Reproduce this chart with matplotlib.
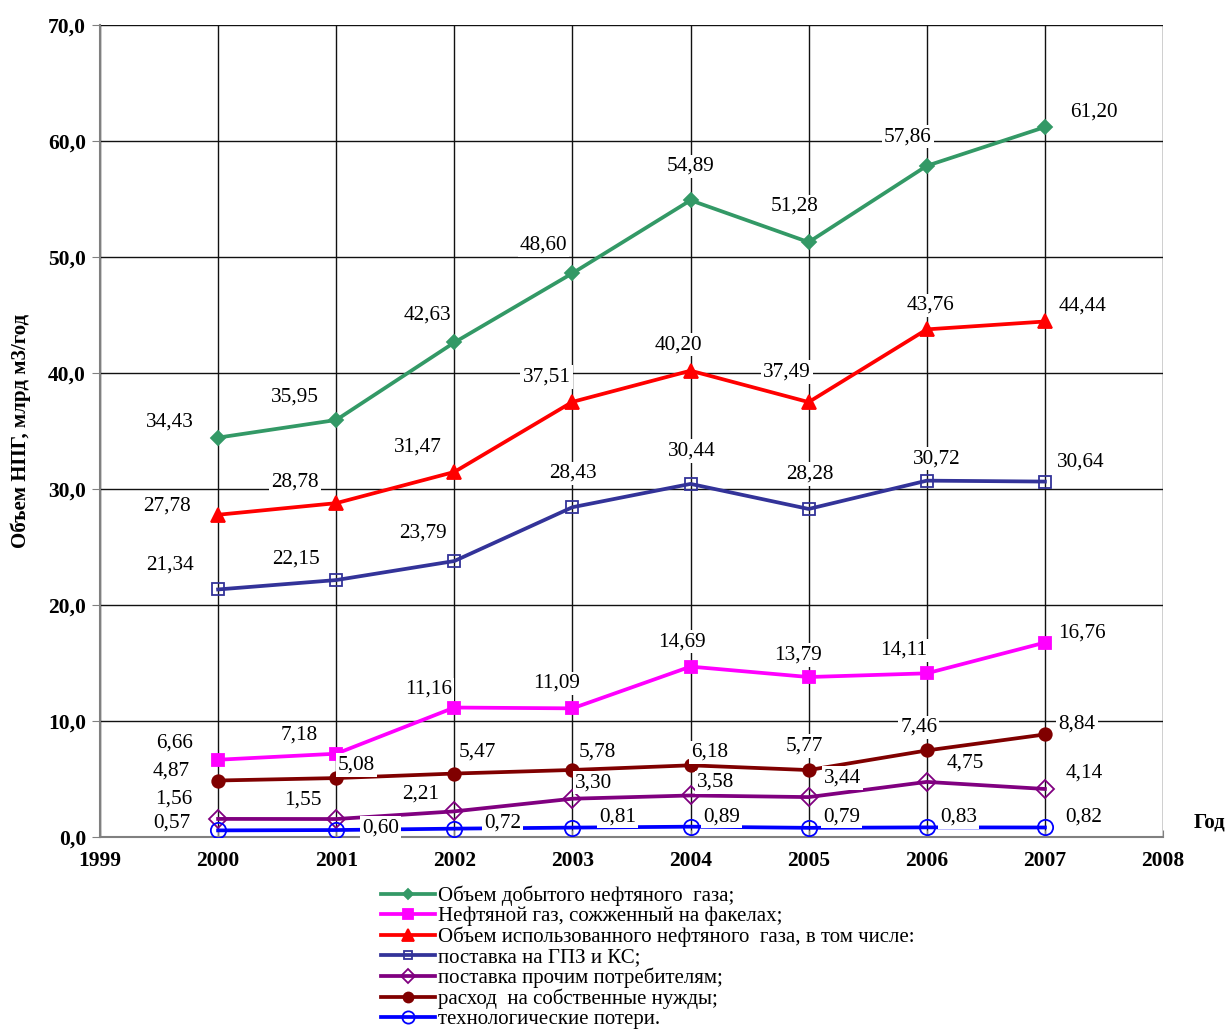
import matplotlib
matplotlib.use('Agg')
import matplotlib.pyplot as plt
from matplotlib.ticker import FuncFormatter, MultipleLocator

plt.rcParams['font.family'] = ['Liberation Serif', 'DejaVu Serif']

# --- данные (млрд м3/год) ---
years = [2000, 2001, 2002, 2003, 2004, 2005, 2006, 2007]

dobycha  = [34.43, 35.95, 42.63, 48.60, 54.89, 51.28, 57.86, 61.20]
fakely   = [6.66, 7.18, 11.16, 11.09, 14.69, 13.79, 14.11, 16.76]
ispolz   = [27.78, 28.78, 31.47, 37.51, 40.20, 37.49, 43.76, 44.44]
gpz_ks   = [21.34, 22.15, 23.79, 28.43, 30.44, 28.28, 30.72, 30.64]
prochie  = [1.56, 1.55, 2.21, 3.30, 3.58, 3.44, 4.75, 4.14]
sobstv   = [4.87, 5.08, 5.47, 5.78, 6.18, 5.77, 7.46, 8.84]
poteri   = [0.57, 0.60, 0.72, 0.81, 0.89, 0.79, 0.83, 0.82]

names = ['Объем добытого нефтяного  газа;',
         'Нефтяной газ, сожженный на факелах;',
         'Объем использованного нефтяного  газа, в том числе:',
         'поставка на ГПЗ и КС;',
         'поставка прочим потребителям;',
         'расход  на собственные нужды;',
         'технологические потери.']

# стиль серий: (цвет, маркер, размер, заливка)
styles = [('#339966', 'D', 7, 'full'),
          ('#FF00FF', 's', 9, 'full'),
          ('#FF0000', '^', 10, 'full'),
          ('#333399', 's', 8, 'none'),
          ('#800080', 'D', 9, 'none'),
          ('#800000', 'o', 9, 'full'),
          ('#0000FF', 'o', 11, 'none')]

# сдвиги подписей в пикселях (dx, dy) — только оформление
offsets = [
    [(-48, 16), (-41, 23), (-27, 27), (-29, 28), (0, 34), (-14, 36), (-19, 29), (49, 15)],
    [(-44, 17), (-37, 19), (-26, 18), (-16, 25), (-9, 25), (-11, 22), (-23, 23), (37, 10)],
    [(-51, 9), (-41, 21), (-36, 25), (-26, 25), (-12, 26), (-22, 30), (4, 24), (38, 15)],
    [(-48, 24), (-40, 21), (-31, 28), (0, 34), (1, 33), (1, 35), (10, 22), (36, 20)],
    [(-44, 20), (-33, 19), (-34, 17), (21, 16), (25, 13), (34, 19), (39, 19), (39, 16)],
    [(-47, 9), (20, 13), (23, 22), (25, 18), (19, 13), (-4, 24), (-8, 23), (32, 10)],
    [(-46, 7), (44, 2), (48, 6), (45, 11), (31, 10), (33, 11), (32, 10), (39, 10)],
]

series = [dobycha, fakely, ispolz, gpz_ks, prochie, sobstv, poteri]

fig = plt.figure(figsize=(12.31, 10.32), dpi=100)
ax = fig.add_axes([100 / 1231, 1 - 837 / 1032, 1063 / 1231, 812 / 1032])

handles = []
for vals, name, (col, mk, ms, fill), offs in zip(series, names, styles, offsets):
    h, = ax.plot(years, vals, color=col, lw=2.7, marker=mk, markersize=ms,
                 fillstyle=fill, markeredgewidth=1.3, markerfacecolor=col if fill == 'full' else 'white',
                 label=name, zorder=3)
    handles.append(h)
    for x, v, (dx, dy) in zip(years, vals, offs):
        ax.annotate(f'{v:.2f}'.replace('.', ','), (x, v), xytext=(dx, dy),
                    textcoords='offset pixels', ha='center', va='center',
                    fontsize=15.3, color='black', zorder=5,
                    bbox=dict(fc='white', ec='none', pad=1.5))

ax.set_xlim(1999, 2008)
ax.set_ylim(0, 70)
ax.xaxis.set_major_locator(MultipleLocator(1))
ax.yaxis.set_major_locator(MultipleLocator(10))
ax.yaxis.set_major_formatter(FuncFormatter(lambda v, p: f'{v:.1f}'.replace('.', ',')))
ax.grid(True, color='#111111', lw=1.0, zorder=0)
ax.set_axisbelow(True)

for s in ['top', 'right']:
    ax.spines[s].set_visible(False)
ax.spines['left'].set_color('#808080')
ax.spines['left'].set_linewidth(1.5)
ax.spines['bottom'].set_color('#808080')
ax.spines['bottom'].set_linewidth(1.5)

ax.tick_params(axis='y', direction='out', length=6, color='#808080', labelsize=15.5, pad=4)
ax.tick_params(axis='x', direction='in', length=5, color='#808080', labelsize=15.5, pad=10)
for lab in ax.get_xticklabels() + ax.get_yticklabels():
    lab.set_fontweight('bold')

ax.set_ylabel('Объем НПГ, млрд м3/год', fontsize=15, fontweight='bold', labelpad=12)
ax.text(1.044, 0.018, 'Год', transform=ax.transAxes, fontsize=15,
        fontweight='bold', ha='center', va='center')

fig.legend(handles=handles, loc='upper left', bbox_to_anchor=(381 / 1231, 1 - 886 / 1032),
           frameon=False, fontsize=15, labelspacing=0.02, handlelength=2.6,
           handletextpad=0.15, borderpad=0, borderaxespad=0, markerscale=0.8)

fig.savefig('out.png', dpi=100)
